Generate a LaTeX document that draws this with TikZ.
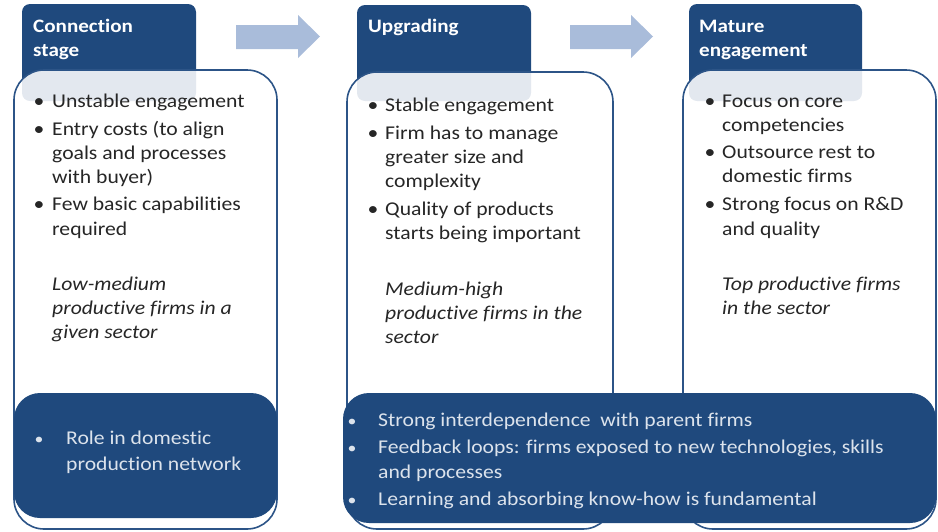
\documentclass[tikz,border=0pt]{standalone}
\usepackage{fontspec}
\setmainfont{Carlito}[FakeStretch=1.11,Ligatures=NoCommon]
\begin{document}
\begin{tikzpicture}[x=1pt,y=-1pt,
  tab/.style={fill=tabblue, rounded corners=8pt},
  card/.style={draw=edgeblue, line width=1.6pt, fill=white, fill opacity=0.88, rounded corners=30pt},
  foot/.style={fill=tabblue, rounded corners=26pt},
  flow/.style={fill=arrowblue},
  ttl/.style={anchor=base west, inner sep=0, text=white, font=\fontsize{19}{23}\selectfont\bfseries},
  txt/.style={anchor=base west, inner sep=0, text=textgray, font=\fontsize{19.5}{24}\selectfont},
  itx/.style={txt, font=\fontsize{19.5}{24}\selectfont\itshape},
  bul/.style={anchor=base, inner sep=0, text=textgray, font=\fontsize{19.5}{24}\selectfont},
  ftx/.style={anchor=base west, inner sep=0, text=foottext, font=\fontsize{19.5}{24}\selectfont},
  fbul/.style={anchor=base, inner sep=0, text=foottext, font=\fontsize{16}{24}\selectfont},
]
\definecolor{tabblue}{HTML}{1F497D}
\definecolor{edgeblue}{HTML}{2C5487}
\definecolor{arrowblue}{HTML}{A9BCDA}
\definecolor{textgray}{HTML}{262626}
\definecolor{foottext}{HTML}{DCE3EC}
\useasboundingbox (0,0) rectangle (938,531);

% arrows
\fill[flow] (236,25) -- (298,25) -- (298,15) -- (320,36.5) -- (298,58) -- (298,49) -- (236,49) -- cycle;
\fill[flow] (570,25) -- (631,25) -- (631,15) -- (653,36.5) -- (631,58) -- (631,49) -- (570,49) -- cycle;

% tabs
\fill[tab] (22,4) rectangle (196,101);
\fill[tab] (357,5) rectangle (531,101);
\fill[tab] (689,4) rectangle (862,101);

% cards
\draw[card] (14,70) rectangle (277,529);
\draw[card] (347,72) rectangle (613,529);
\draw[card] (683,70) rectangle (936,529);

% footer boxes
\fill[foot] (14,393) rectangle (277,518);
\fill[foot] (343,393) rectangle (936,523);

% titles
\node[ttl] (t1a) at (33,32.5) {Connection};
\node[ttl] (t1b) at (33,56.5) {stage};
\node[ttl] (t2a) at (368,32.5) {Upgrading};
\node[ttl] (t3a) at (699,32.5) {Mature};
\node[ttl] (t3b) at (699,56.5) {engagement};

% card 1
\node[bul] (c1b1) at (39,107.5) {•};
\node[txt] (c1l1) at (52,107.5) {Unstable engagement};
\node[bul] (c1b2) at (39,135.5) {•};
\node[txt] (c1l2) at (52,135.5) {Entry costs (to align};
\node[txt] (c1l3) at (52,159.5) {goals and processes};
\node[txt] (c1l4) at (52,183.5) {with buyer)};
\node[bul] (c1b3) at (39,210.5) {•};
\node[txt] (c1l5) at (52,210.5) {Few basic capabilities};
\node[txt] (c1l6) at (52,235.5) {required};
\node[itx] (c1i1) at (52,290.5) {Low-medium};
\node[itx] (c1i2) at (52,314.5) {productive firms in a};
\node[itx] (c1i3) at (52,338.5) {given sector};

% card 2
\node[bul] (c2b1) at (373,111.5) {•};
\node[txt] (c2l1) at (385,111.5) {Stable engagement};
\node[bul] (c2b2) at (373,139.5) {•};
\node[txt] (c2l2) at (385,139.5) {Firm has to manage};
\node[txt] (c2l3) at (385,163.5) {greater size and};
\node[txt] (c2l4) at (385,187.5) {complexity};
\node[bul] (c2b3) at (373,215.5) {•};
\node[txt] (c2l5) at (385,215.5) {Quality of products};
\node[txt] (c2l6) at (385,239.5) {starts being important};
\node[itx] (c2i1) at (385,295.5) {Medium-high};
\node[itx] (c2i2) at (385,319.5) {productive firms in the};
\node[itx] (c2i3) at (385,343.5) {sector};

% card 3
\node[bul] (c3b1) at (710,107.5) {•};
\node[txt] (c3l1) at (722,107.5) {Focus on core};
\node[txt] (c3l2) at (722,131.5) {competencies};
\node[bul] (c3b2) at (710,158.5) {•};
\node[txt] (c3l3) at (722,158.5) {Outsource rest to};
\node[txt] (c3l4) at (722,182.5) {domestic firms};
\node[bul] (c3b3) at (710,210.5) {•};
\node[txt] (c3l5) at (722,210.5) {Strong focus on R\&D};
\node[txt] (c3l6) at (722,235.5) {and quality};
\node[itx] (c3i1) at (722,290.5) {Top productive firms};
\node[itx] (c3i2) at (722,314.5) {in the sector};

% footer 1
\node[fbul] (f1b1) at (39,444.5) {•};
\node[ftx] (f1l1) at (66,444.5) {Role in domestic};
\node[ftx] (f1l2) at (66,470.5) {production network};

% footer 2
\node[fbul] (f2b1) at (352,426.5) {•};
\node[ftx] (f2l1) at (378,426.5) {Strong interdependence\ \ with parent firms};
\node[fbul] (f2b2) at (352,453.5) {•};
\node[ftx] (f2l2) at (378,453.5) {Feedback loops: firms exposed to new technologies, skills};
\node[ftx] (f2l3) at (378,478.5) {and processes};
\node[fbul] (f2b3) at (352,505.5) {•};
\node[ftx] (f2l4) at (378,505.5) {Learning and absorbing know-how is fundamental};
\end{tikzpicture}
\end{document}
